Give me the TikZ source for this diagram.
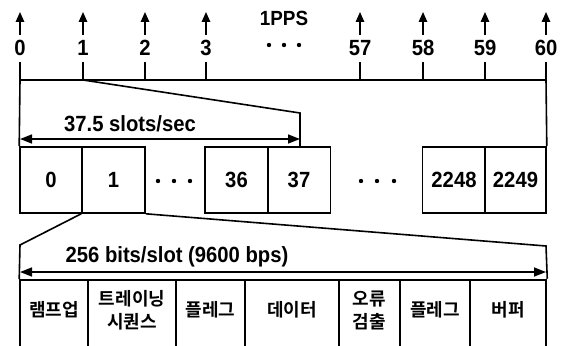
\documentclass[tikz,border=0pt]{standalone}
\usepackage{fontspec}
\setmainfont{Liberation Sans}
\newfontfamily\lblfont[FakeStretch=0.92]{Liberation Sans Bold}
\newfontfamily\krfont{Noto Sans CJK KR Bold}
\usetikzlibrary{arrows.meta}
\begin{document}
\begin{tikzpicture}[x=1pt,y=-1pt,line width=1.6pt,
  lbl/.style={font=\lblfont\fontsize{22}{22}\selectfont,inner sep=0pt},
  slotbox/.style={draw,minimum height=66pt,inner sep=0pt,font=\lblfont\fontsize{22}{22}\selectfont},
  field/.style={draw,minimum height=68pt,inner sep=0pt},
  ftext/.style={inner sep=0pt,align=center,font=\krfont\fontsize{18}{23}\selectfont},
  dotmark/.style={fill,circle,inner sep=0pt,minimum size=4.4pt},
  uptip/.style={-{Triangle[length=10pt,width=8.5pt]}},
  dbl/.style={{Triangle[length=12pt,width=9pt]}-{Triangle[length=12pt,width=9pt]}}]
\useasboundingbox (0,0) rectangle (561,345);
\clip (0,0) rectangle (561,345);
% top timeline
\foreach \x/\l in {20/0,83/1,145/2,206/3,360/57,423/58,485/59,546/60}{
  \node[lbl] (t\l) at (\x,48) {\l};
  \coordinate (a\l) at (\x,80);
  \coordinate (k\l) at (\x,62);
  \coordinate (u\l) at (\x,12);
  \coordinate (d\l) at (\x,35);
  \draw (k\l) -- (a\l);
  \draw[uptip] (d\l) -- (u\l);
}
\node[lbl,font=\lblfont\fontsize{20.5}{20.5}\selectfont] (pps) at (284,18) {1PPS};
\node[dotmark] (td1) at (269,45) {};
\node[dotmark] (td2) at (284,45) {};
\node[dotmark] (td3) at (299,45) {};
\draw (a0) -- (a60);
% slots
\node[slotbox,minimum width=62pt] (s0) at (51,180) {0};
\node[slotbox,minimum width=63pt] (s1) at (113.5,180) {1};
\node[slotbox,minimum width=63pt] (s36) at (236.5,180) {36};
\node[slotbox,minimum width=63pt] (s37) at (299,180) {37};
\node[slotbox,minimum width=63pt] (s2248) at (454,180) {2248};
\node[slotbox,minimum width=61pt] (s2249) at (515.5,180) {2249};
\node[dotmark] (sd1) at (158,181) {};
\node[dotmark] (sd2) at (174,181) {};
\node[dotmark] (sd3) at (190,181) {};
\node[dotmark] (sd4) at (361,181) {};
\node[dotmark] (sd5) at (377,181) {};
\node[dotmark] (sd6) at (394,181) {};
\draw (a0) -- (s0.north west);
\draw (a60) -- (s2249.north east);
\coordinate (z) at (300,113);
\draw (a1) -- (z) -- (z |- s37.north);
\coordinate (p1) at (20,139);
\coordinate (p2) at (300,139);
\draw[dbl] (p1) -- (p2);
\node[lbl] (rate1) at (130,124) {37.5 slots/sec};
% fields
\node[field,minimum width=68pt] (f1) at (54,314) {};
\node[field,minimum width=88pt] (f2) at (132,314) {};
\node[field,minimum width=69pt] (f3) at (210.5,314) {};
\node[field,minimum width=94pt] (f4) at (292,314) {};
\node[field,minimum width=61pt] (f5) at (369.5,314) {};
\node[field,minimum width=70pt] (f6) at (435,314) {};
\node[field,minimum width=76pt,line width=2.5pt] (f7) at (508,314) {};
\node[ftext] (l1) at (54,310) {램프업};
\node[ftext] (l2) at (132,310) {트레이닝\\시퀀스};
\node[ftext] (l3) at (210.5,310) {플레그};
\node[ftext] (l4) at (292,310) {데이터};
\node[ftext] (l5) at (369.5,310) {오류\\검출};
\node[ftext] (l6) at (435,310) {플레그};
\node[ftext] (l7) at (508,310) {버퍼};
\coordinate (b1) at (20,245);
\coordinate (b2) at (546,246);
\draw (s1.south west) -- (b1) -- (f1.north west);
\draw (s1.south east) -- (b2) -- (f7.north east);
\coordinate (q1) at (20,272);
\coordinate (q2) at (546,272);
\draw[dbl] (q1) -- (q2);
\node[lbl] (rate2) at (177,257) {256 bits/slot (9600 bps)};
\end{tikzpicture}
\end{document}
